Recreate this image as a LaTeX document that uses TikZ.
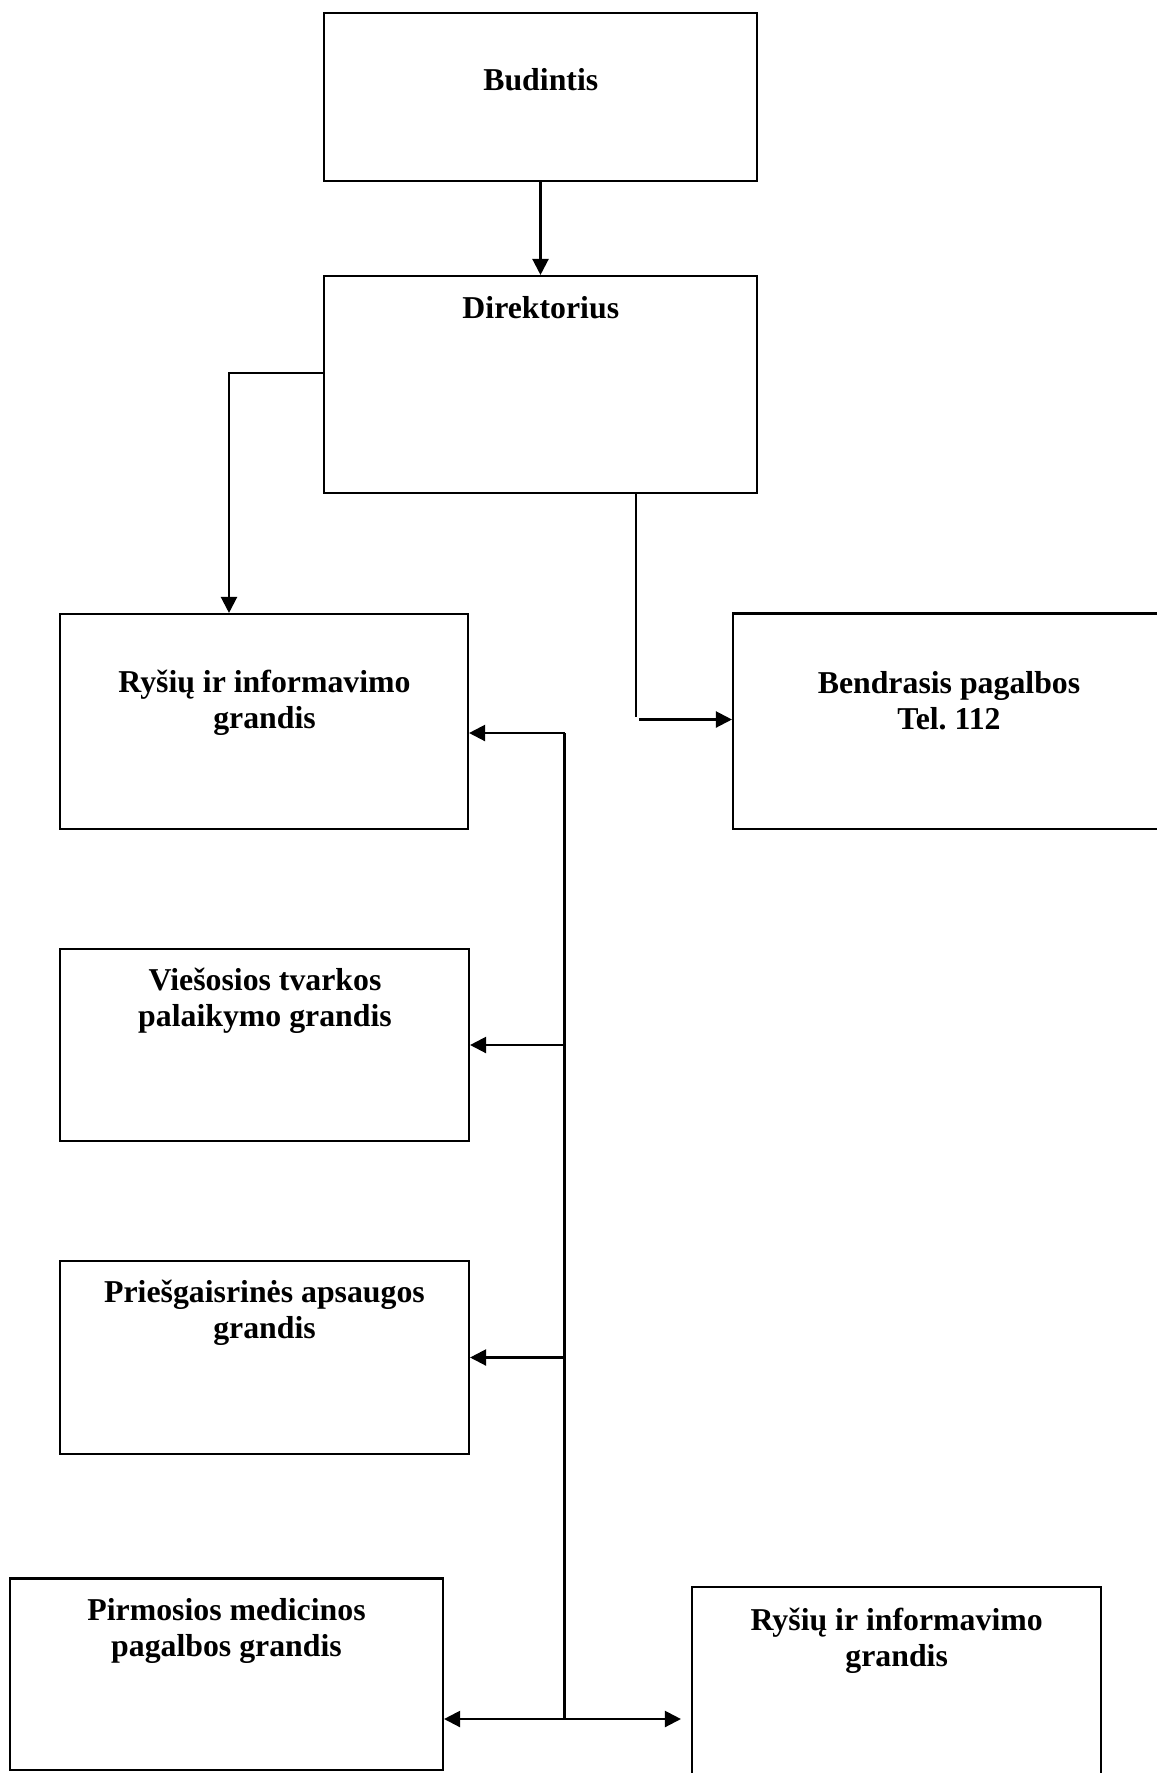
\documentclass[tikz,border=0pt]{standalone}
\usepackage{fontspec}
\setmainfont{Liberation Serif}
\usetikzlibrary{arrows.meta,fit}
\begin{document}
\begin{tikzpicture}[x=0.5pt,y=-0.5pt,
  boxnode/.style={draw, line width=1.05pt, inner sep=0pt, rectangle},
  lbl/.style={inner sep=0pt, align=center, font=\fontsize{15.9pt}{18pt}\selectfont\bfseries},
  conn/.style={line width=1.05pt},
  thinconn/.style={line width=0.7pt},
  arr/.style={line width=1.1pt, -{Triangle[length=8pt,width=8pt]}},
  darr/.style={line width=1.1pt, {Triangle[length=8pt,width=8pt]}-{Triangle[length=8pt,width=8pt]}}]
\useasboundingbox (0,0) rectangle (1157,1773);
\clip (0,0) rectangle (1157,1773);

% boxes
\node[boxnode, fit={(324,12.7) (757,180.7)}] (bud) {};
\node[boxnode, fit={(324,276) (757,493)}] (dir) {};
\node[boxnode, fit={(60,614) (468,829)}] (rys1) {};
\node[boxnode, fit={(733,613.5) (1185,829.3)}] (bend) {};
\node[boxnode, fit={(60,949.3) (469,1141.4)}] (vie) {};
\node[boxnode, fit={(60,1261) (469,1454)}] (pri) {};
\node[boxnode, fit={(10,1578.5) (443,1770)}] (pir) {};
\node[boxnode, fit={(692,1587) (1101,1800)}] (rys2) {};

% texts
\node[lbl, anchor=base] (tbud) at (540.8,90) {Budintis};
\node[lbl, anchor=base] (tdir) at (540.8,318) {Direktorius};
\node[lbl] (trys1) at (264.5,702.5) {Ryšių ir informavimo\\grandis};
\node[lbl] (tbend) at (949,701) {Bendrasis pagalbos\\Tel.\ 112};
\node[lbl] (tvie) at (265,1001) {Viešosios tvarkos\\palaikymo grandis};
\node[lbl] (tpri) at (264.5,1312.5) {Priešgaisrinės apsaugos\\grandis};
\node[lbl] (tpir) at (226.5,1630.5) {Pirmosios medicinos\\pagalbos grandis};
\node[lbl] (trys2) at (896.7,1640.5) {Ryšių ir informavimo\\grandis};

% coordinates
\coordinate (lk) at (229,373);
\coordinate (rk1) at (636,717);
\coordinate (rk2) at (639,719.5);
\coordinate (bt) at (564.5,733);
\coordinate (bv) at (564.5,1045);
\coordinate (bp) at (564.5,1357.5);
\coordinate (bb) at (564.5,1719);

% connectors
\draw[arr] (bud) -- (dir);
\draw[arr] (dir.west |- lk) -- (lk) -- (lk |- rys1.north);
\draw[thinconn] (dir.south -| rk1) -- (rk1);
\draw[arr] (rk2) -- (bend.west |- rk2);
\draw[conn] (bt) -- (bb);
\draw[arr] (bt) -- (rys1.east |- bt);
\draw[arr] (bv) -- (vie.east |- bv);
\draw[arr] (bp) -- (pri.east |- bp);
\draw[darr] (pir.east |- bb) -- ([xshift=-5] rys2.west |- bb);
\end{tikzpicture}
\end{document}
